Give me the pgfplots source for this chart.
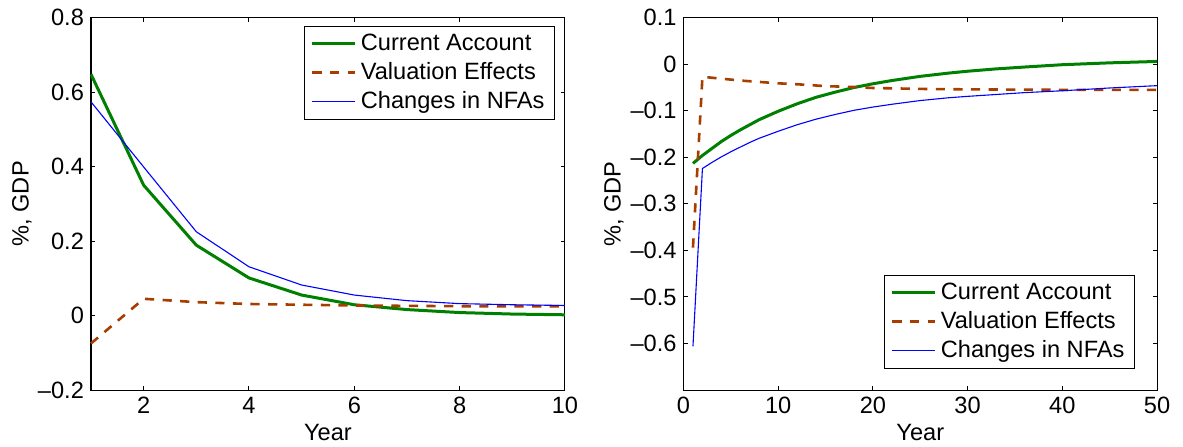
\documentclass[border=0pt]{standalone}
\usepackage{fontspec}
\setmainfont{Liberation Sans}
\usepackage{pgfplots}
\pgfplotsset{compat=1.18}
\definecolor{cagreen}{rgb}{0,0.5,0}
\definecolor{vebrown}{rgb}{0.66,0.24,0.0}
\definecolor{nfablue}{rgb}{0,0,1}
\pgfplotsset{
  common/.style={
    scale only axis,
    axis line style={line width=0.5pt},
    tick align=inside,
    major tick length=2pt,
    tick style={line width=0.5pt,black},
    /pgf/number format/assume math mode=true,
    tick label style={font=\fontsize{11.8}{13}\selectfont},
    label style={font=\fontsize{11.8}{13}\selectfont},
    xlabel={Year},
    ylabel={\%, GDP},
    xlabel style={at={(axis description cs:0.5,-0.115)},anchor=center},
    legend cell align=left,
    legend style={draw=black,line width=0.5pt,fill=white,
      font=\fontsize{11.8}{14}\selectfont,
      inner xsep=3pt,inner ysep=2pt,row sep=0.5pt},
    legend image code/.code={\draw[##1] (0pt,0pt) -- (21.5pt,0pt);},
    clip=false,
  },
  ca/.style={cagreen,line width=1.5pt},
  ve/.style={vebrown,line width=1.3pt,dash pattern=on 4.6pt off 4.2pt},
  nfa/.style={nfablue,line width=0.55pt},
}
\begin{document}
\begin{tikzpicture}
\useasboundingbox (0,0) rectangle (591.5pt,223pt);
\begin{axis}[common,
  at={(45.5pt,28pt)},anchor=south west,
  width=237pt,height=186.15pt,
  xmin=1,xmax=10,ymin=-0.2,ymax=0.8,
  xtick={2,4,6,8,10},
  ytick={-0.2,0,0.2,0.4,0.6,0.8},
  yticklabels={–0.2,0,0.2,0.4,0.6,0.8},
  ylabel style={at={(axis description cs:-0.1456,0.5)},anchor=center},
  legend style={at={(axis description cs:0.979,0.9785)},anchor=north east},
]
\addplot[ca] coordinates {(1,0.648) (2,0.350) (3,0.189) (4,0.101) (5,0.055) (6,0.029) (7,0.016) (8,0.008) (9,0.004) (10,0.002)};
\addlegendentry{Current Account}
\addplot[ve] coordinates {(1,-0.075) (2,0.045) (3,0.036) (4,0.031) (5,0.029) (6,0.027) (7,0.026) (8,0.025) (9,0.025) (10,0.025)};
\addlegendentry{Valuation Effects}
\addplot[nfa] coordinates {(1,0.574) (2,0.399) (3,0.225) (4,0.131) (5,0.082) (6,0.055) (7,0.040) (8,0.032) (9,0.029) (10,0.027)};
\addlegendentry{Changes in NFAs}
\end{axis}
\begin{axis}[common,
  at={(341.75pt,28pt)},anchor=south west,
  width=236.75pt,height=186.15pt,
  xmin=0,xmax=50,ymin=-0.7,ymax=0.1,
  xtick={0,10,20,30,40,50},
  ytick={-0.6,-0.5,-0.4,-0.3,-0.2,-0.1,0,0.1},
  yticklabels={–0.6,–0.5,–0.4,–0.3,–0.2,–0.1,0,0.1},
  ylabel style={at={(axis description cs:-0.147,0.5)},anchor=center},
  legend style={at={(axis description cs:0.9535,0.0556)},anchor=south east},
]
\addplot[ca] coordinates {(1,-0.213) (2,-0.196) (3,-0.181) (4,-0.166) (5,-0.153) (6,-0.141) (7,-0.130) (8,-0.119) (10,-0.101) (12,-0.085) (14,-0.071) (16,-0.060) (18,-0.050) (20,-0.042) (22,-0.035) (25,-0.026) (28,-0.019) (30,-0.015) (33,-0.010) (36,-0.006) (40,-0.001) (45,0.003) (50,0.006)};
\addlegendentry{Current Account}
\addplot[ve] coordinates {(1,-0.394) (2,-0.027) (3,-0.029) (4,-0.031) (5,-0.033) (6,-0.035) (8,-0.038) (10,-0.041) (12,-0.043) (15,-0.047) (18,-0.049) (20,-0.051) (25,-0.053) (30,-0.054) (40,-0.055) (50,-0.055)};
\addlegendentry{Valuation Effects}
\addplot[nfa] coordinates {(1,-0.606) (2,-0.224) (3,-0.211) (4,-0.199) (5,-0.188) (6,-0.178) (7,-0.168) (8,-0.159) (10,-0.144) (12,-0.130) (14,-0.118) (16,-0.108) (18,-0.099) (20,-0.092) (22,-0.086) (25,-0.078) (28,-0.072) (30,-0.069) (33,-0.065) (36,-0.061) (40,-0.057) (45,-0.051) (50,-0.046)};
\addlegendentry{Changes in NFAs}
\end{axis}
\end{tikzpicture}
\end{document}
